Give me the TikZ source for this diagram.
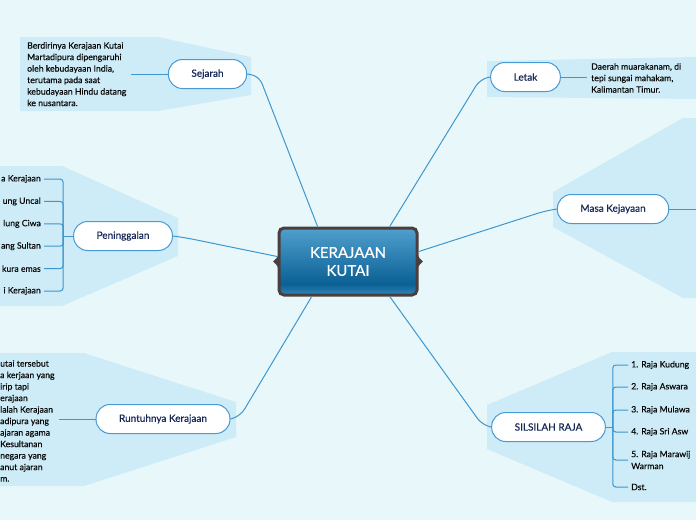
\documentclass[tikz,border=0pt]{standalone}
\usepackage{fontspec}
\setmainfont{Lato}[FakeBold=0.5]
\usepackage{xcolor}
\usepackage{tikz}
\usetikzlibrary{calc}
\definecolor{bgcyan}{RGB}{232,248,250}
\definecolor{zoneblue}{RGB}{206,236,247}
\definecolor{linkblue}{RGB}{62,150,206}
\definecolor{pillblue}{RGB}{72,154,212}
\definecolor{navytext}{RGB}{22,40,88}
\definecolor{bodytext}{RGB}{10,10,10}
\definecolor{kutedge}{RGB}{74,62,62}
\definecolor{kuttop}{RGB}{80,160,205}
\definecolor{kutdark}{RGB}{10,96,148}
\definecolor{kutlow}{RGB}{52,136,186}
\pgfdeclareverticalshading{kutshade}{100bp}{color(0bp)=(kutlow); color(25bp)=(kutlow); color(33bp)=(kutdark); color(75bp)=(kuttop); color(100bp)=(kuttop)}

\begin{document}
\begin{tikzpicture}[
  x=1pt, y=-1pt,
  core/.style = {
    rectangle, rounded corners=5pt, draw=kutedge, line width=3pt,
    shading=kutshade, minimum width=138pt, minimum height=67pt,
    text=white, align=center, font=\fontsize{15}{18}\selectfont
  },
  topic/.style = {
    rectangle, rounded corners=14pt, draw=pillblue, line width=1pt,
    fill=white, minimum height=29pt, inner xsep=23pt,
    text=navytext, font=\fontsize{10}{12}\selectfont
  },
  note/.style = {align=left, inner sep=4pt, text=bodytext, font=\fontsize{8.7}{11.5}\selectfont},
  leaf/.style = {align=left, inner sep=3pt, text=bodytext, font=\fontsize{8.7}{12}\selectfont},
  zone/.style = {fill=zoneblue, draw=none},
  conn/.style = {draw=linkblue, line width=1pt, rounded corners=8pt}
]
\fill[bgcyan] (0,0) rectangle (696,520);
\useasboundingbox (0,0) rectangle (696,520);

\fill[zone] (20,37) -- (158,37) -- (251,57) -- (251,95) -- (158,111) -- (20,111) -- cycle;
\fill[zone] (487,61) -- (696,57) -- (696,99) -- (487,97) -- cycle;
\fill[zone] (553,192) -- (683,118) -- (696,118) -- (696,298) -- (683,298) -- (553,227) -- cycle;
\fill[zone] (-2,166) -- (62,166) -- (178,218) -- (178,256) -- (62,306) -- (-2,306) -- cycle;
\fill[zone] (-2,353) -- (84,353) -- (236,402) -- (236,437) -- (84,486) -- (-2,486) -- cycle;
\fill[zone] (487,405) -- (612,352) -- (698,352) -- (698,502) -- (612,502) -- (487,449) -- cycle;

\node[core] (kut) at (348,261.5) {KERAJAAN\\KUTAI};
\fill[kutedge] ($(kut.west)+(1.5,-8)$) .. controls ($(kut.west)+(-1,-3)$) .. ($(kut.west)+(-4.5,0)$) .. controls ($(kut.west)+(-1,3)$) .. ($(kut.west)+(1.5,8)$) -- cycle;
\fill[kutedge] ($(kut.east)+(-1.5,-8)$) .. controls ($(kut.east)+(1,-3)$) .. ($(kut.east)+(4.5,0)$) .. controls ($(kut.east)+(1,3)$) .. ($(kut.east)+(-1.5,8)$) -- cycle;

\node[topic] (sej)  at (207.5,74)  {Sejarah};
\node[topic] (let)  at (525.5,77)  {Letak};
\node[topic] (masa) at (613,209)   {Masa Kejayaan};
\node[topic] (pen)  at (123,236)   {Peninggalan};
\node[topic] (run)  at (163,419)   {Runtuhnya Kerajaan};
\node[topic] (sil)  at (548.5,427) {SILSILAH RAJA};

\draw[conn] (sej.east) -- ++(12,2) -- (kut.131);
\draw[conn] (let.west) -- ++(-10,2) -- (kut.40);
\draw[conn] (masa.west) -- ++(-12,2) -- (kut.8);
\draw[conn] (pen.east) -- ++(14,2) -- (kut.176);
\draw[conn] (run.east) -- ++(10,-3) -- (kut.224);
\draw[conn] (sil.west) -- ++(-9,-2) -- (kut.320);

\node[note, anchor=north west] (sejnote) at (23,38)
  {Berdirinya Kerajaan Kutai\\Martadipura dipengaruhi\\oleh kebudayaan India,\\terutama pada saat\\kebudayaan Hindu datang\\ke nusantara.};
\draw[conn] (sej.west) -- (sej.west -| sejnote.east);

\node[note, anchor=west] (letnote) at (587,78)
  {Daerah muarakanam, di\\tepi sungai mahakam,\\Kalimantan Timur.};
\draw[conn] (let.east) -- (let.east -| letnote.west);

\coordinate (masaout) at (700,209);
\draw[conn] (masa.east) -- (masaout);

\node[note, anchor=north west] (runnote) at (-4,356)
  {utai tersebut\\a kerjaan yang\\irip tapi\\erajaan\\lalah Kerajaan\\adipura yang\\ajaran agama\\ Kesultanan\\negara yang\\anut ajaran\\m.};
\draw[conn] (run.west) -- (run.west -| runnote.east);

\coordinate (penb) at ($(pen.west)+(-10,0)$);
\draw[conn] (pen.west) -- (penb);
\foreach \t [count=\i] in {a Kerajaan, ung Uncal, lung Ciwa, ang Sultan, kura emas, i Kerajaan} {
  \node[leaf, anchor=east] (pl\i) at (44,156.6+22.4*\i) {\t};
  \draw[conn, rounded corners=3pt] (pl\i.east) -- (pl\i.east -| penb) -- (penb);
}

\coordinate (silb) at ($(sil.east)+(7,0)$);
\draw[conn] (sil.east) -- (silb);
\foreach \y/\t [count=\i] in {365/1. Raja Kudung, 387/2. Raja Aswara, 410/3. Raja Mulawa, 432/4. Raja Sri Asw, 460/{5. Raja Marawij\\Warman}, 487/Dst.} {
  \node[leaf, anchor=west] (sl\i) at (628,\y) {\t};
  \draw[conn, rounded corners=3pt] (silb) -- (silb |- sl\i.west) -- (sl\i.west);
}
\end{tikzpicture}
\end{document}
